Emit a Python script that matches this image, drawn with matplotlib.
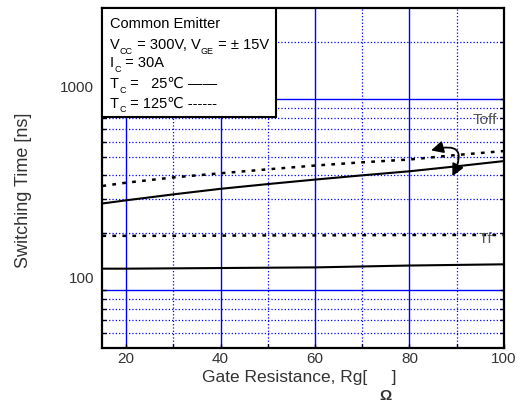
import matplotlib
matplotlib.use("Agg")
import matplotlib.pyplot as plt
from matplotlib.patches import Rectangle, FancyArrowPatch
from matplotlib.transforms import ScaledTranslation

plt.rcParams['font.family'] = ['Liberation Sans', 'DejaVu Sans']

# gate resistance [ohm]
rg = [15, 20, 30, 40, 50, 60, 70, 80, 90, 100]
# switching times [ns]
toff_25 = [285, 296, 318, 340, 360, 380, 400, 420, 446, 475]
toff_125 = [352, 366, 390, 410, 430, 450, 468, 484, 511, 536]
tf_25 = [130, 130, 130.5, 131, 131.5, 132, 133.5, 135, 136, 137]
tf_125 = [193, 193, 193, 193.5, 194, 194, 194.5, 195, 195, 195]

xticks = [20, 40, 60, 80, 100]
xminor = [30, 50, 70, 90]
yticks = [100, 1000]
yminor = [60, 70, 80, 90, 200, 300, 400, 500, 600, 700, 800, 900, 2000]

# condition box lines: (text, is_subscript)
cond_lines = [
    [('Common Emitter', False)],
    [('V', False), ('CC', True), (' = 300V, V', False), ('GE', True),
     (' = ± 15V', False)],
    [('I', False), ('C', True), (' = 30A', False)],
    [('T', False), ('C', True), (' =   25℃ ——', False)],
    [('T', False), ('C', True), (' = 125℃ ------', False)],
]
cond_y = [0.956, 0.894, 0.841, 0.779, 0.721]

fig = plt.figure(figsize=(5.24, 4.02), dpi=100)
ax = fig.add_axes([0.1954, 0.1318, 0.7664, 0.8458])

ax.set_yscale('log')
ax.set_xlim(15, 100)
ax.set_ylim(50, 3000)

ax.set_xticks(xticks)
ax.set_xticks(xminor, minor=True)
ax.set_yticks(yticks)
ax.set_yticks(yminor, minor=True)
ax.set_yticklabels(['100', '1000'])
ax.set_yticklabels([], minor=True)
ax.set_xticklabels([str(v) for v in xticks])

ax.grid(which='major', color='blue', linestyle='-', linewidth=1.0)
ax.grid(which='minor', color='blue', linestyle=':', linewidth=0.9)
ax.set_axisbelow(True)

ax.tick_params(which='both', direction='in', right=True, top=False,
               length=3, width=1, color='black', labelsize=11,
               labelcolor='#333333')
ax.tick_params(axis='y', pad=6)
ax.tick_params(axis='x', pad=2)

for s in ax.spines.values():
    s.set_linewidth(1.6)
    s.set_color('black')

# labels in the datasheet sit a bit above their gridlines
off = ScaledTranslation(0, 0.14, fig.dpi_scale_trans)
for lab in ax.get_yticklabels():
    lab.set_transform(lab.get_transform() + off)

# curves
ax.plot(rg, toff_25, color='black', linewidth=1.5, linestyle='-')
ax.plot(rg, toff_125, color='black', linewidth=1.8, linestyle=(0, (1.5, 2.5)))
ax.plot(rg, tf_25, color='black', linewidth=1.5, linestyle='-')
ax.plot(rg, tf_125, color='black', linewidth=1.8, linestyle=(0, (1.5, 2.5)))

ax.text(96, 790, 'Toff', fontsize=11, color='#555555', ha='center', va='center')
ax.text(96, 188, 'Tf', fontsize=11, color='#555555', ha='center', va='center')

arr = FancyArrowPatch(posA=(84.0, 535), posB=(88.8, 384),
                      arrowstyle='<|-|>', connectionstyle='arc3,rad=-1.2',
                      mutation_scale=18, color='black', linewidth=1.3,
                      zorder=5)
ax.add_patch(arr)

# condition box
box = Rectangle((0, 0.679), 0.432, 0.321, transform=ax.transAxes,
                facecolor='white', edgecolor='black', linewidth=1.5,
                zorder=6)
ax.add_patch(box)
for segs, y in zip(cond_lines, cond_y):
    base = ax.text(0.018, y, segs[0][0], transform=ax.transAxes,
                   fontsize=10.5, ha='left', va='center', zorder=7)
    prev = base
    for txt, sub in segs[1:]:
        if sub:
            prev = ax.annotate(txt, xy=(1, 0), xycoords=(prev, base),
                               xytext=(0.3, -2.5), textcoords='offset points',
                               fontsize=6.5, ha='left', va='bottom', zorder=7)
        else:
            prev = ax.annotate(txt, xy=(1, 0), xycoords=(prev, base),
                               fontsize=10.5, ha='left', va='bottom', zorder=7)

fig.text(0.571, 0.062, 'Gate Resistance, Rg[     ]', fontsize=12.5,
         color='#333333', ha='center', va='center')
fig.text(386 / 524, 1 - 396 / 402, 'Ω', fontsize=11, fontweight='bold',
         color='#333333', ha='center', va='center')
fig.text(24 / 524, 1 - 190 / 402, 'Switching Time [ns]', fontsize=13,
         color='#333333', rotation=90, ha='center', va='center')

fig.savefig('out.png', dpi=100)
